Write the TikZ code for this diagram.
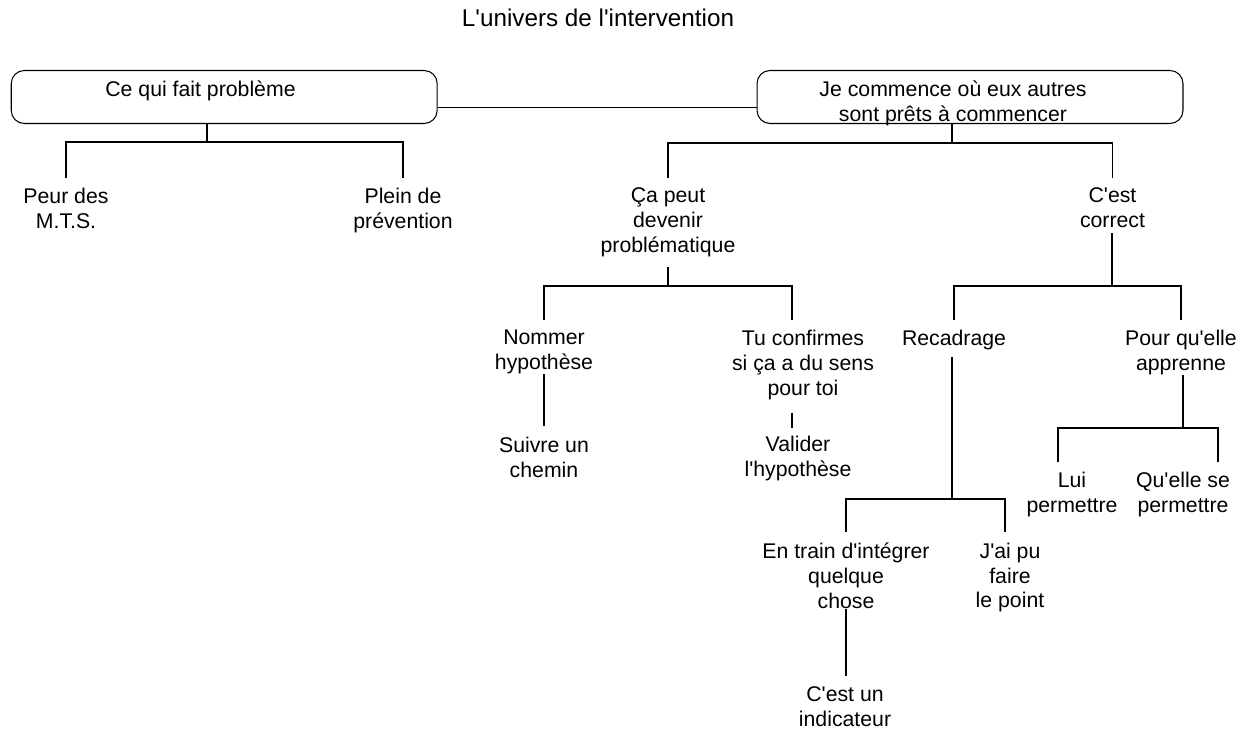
\documentclass[tikz,border=0pt]{standalone}
\usepackage{fontspec}
\setmainfont{Liberation Sans}[Ligatures=TeXOff]
\usetikzlibrary{calc}

\begin{document}
\begin{tikzpicture}[x=0.02cm,y=-0.02cm,line width=0.6pt,
    boite/.style={draw,rounded corners=0.26cm,minimum width=8.52cm,
                  minimum height=1.06cm,inner sep=0pt},
    txt/.style={anchor=north,align=center,inner sep=0pt,
                font=\fontsize{12.1pt}{14.1pt}\selectfont},
    drop/.style={shorten >=0.2cm}]
  \useasboundingbox (0,0) rectangle (1253,732);
  \node[anchor=north,inner sep=0pt,font=\fontsize{13.8pt}{16pt}\selectfont]
    (titre) at (598,8.4) {L'univers de l'intervention};

  % les deux cadres du haut
  \node[boite] (box1) at (224.2,97) {};
  \node[boite] (box2) at (970,97) {};
  \node[txt] (prob) at (200.5,80.4) {Ce qui fait problème};
  \node[txt] (comm) at (953,80.2) {Je commence où eux autres\\sont prêts à commencer};
  \draw ([yshift=-0.21cm]box1.east) -- ([yshift=-0.21cm]box2.west);

  % niveau 1
  \node[txt] (peur)    at (66,187.6)   {Peur des\\M.T.S.};
  \node[txt] (plein)   at (403,187.6)  {Plein de\\prévention};
  \node[txt] (capeut)  at (668,187.6)  {Ça peut\\devenir\\problématique};
  \node[txt] (correct) at (1112.5,187.6) {C'est\\correct};
  \coordinate (j1) at (207,142);
  \coordinate (j2) at (952,143);
  \draw (j1 |- box1.south) -- (j1);
  \draw[drop] (j1) -| (peur.north);
  \draw[drop] (j1) -| (plein.north);
  \draw (j2 |- box2.south) -- (j2);
  \draw[drop] (j2) -| (capeut.north);
  \draw[drop] (j2) -| (correct.north);

  % niveau 2
  \node[txt] (nommer) at (544,329.6)  {Nommer\\hypothèse};
  \node[txt] (tuconf) at (803,329.6)  {Tu confirmes\\si ça a du sens\\pour toi};
  \node[txt] (recad)  at (954,329.6)  {Recadrage};
  \node[txt] (pourqu) at (1181,329.6) {Pour qu'elle\\apprenne};
  \coordinate (j3) at (668,286);
  \coordinate (k1) at (792,286);
  \coordinate (j4) at (1112,286);
  \draw[shorten <=0.2cm] (j3 |- capeut.south) -- (j3);
  \draw[drop] (j3) -| (nommer.north);
  \draw[drop] (j3) -| (k1 |- tuconf.north);
  \draw[shorten <=0.1cm] (j4 |- correct.south) -- (j4);
  \draw[drop] (j4) -| (recad.north);
  \draw[drop] (j4) -| (pourqu.north);

  % niveau 3
  \node[txt] (suivre) at (544,436.3)  {Suivre un\\chemin};
  \node[txt] (valid)  at (798,435.6)  {Valider\\l'hypothèse};
  \node[txt] (lui)    at (1072,471.9) {Lui\\permettre};
  \node[txt] (quelle) at (1183,471.9) {Qu'elle se\\permettre};
  \draw[drop] (nommer.south) -- (nommer.south |- suivre.north);
  \draw[shorten <=0.25cm,shorten >=0.15cm] (k1 |- tuconf.south) -- (k1 |- valid.north);
  \coordinate (j5) at (1183,428);
  \coordinate (k3) at (1058,428);
  \coordinate (k4) at (1218,428);
  \draw (j5 |- pourqu.south) -- (j5);
  \draw[drop] (j5) -| (k3 |- lui.north);
  \draw[drop] (j5) -| (k4 |- quelle.north);

  % sous recadrage
  \node[txt] (entrain) at (846,542.3)  {En train d'intégrer\\quelque\\chose};
  \node[txt] (jaipu)   at (1010,542.3) {J'ai pu\\faire\\le point};
  \node[txt] (cestun)  at (845,686.3)  {C'est un\\indicateur};
  \coordinate (j6) at (952,499);
  \coordinate (k5) at (1005,499);
  \draw[shorten <=0.14cm] (j6 |- recad.south) -- (j6);
  \draw[drop] (j6) -| (entrain.north);
  \draw[drop] (j6) -| (k5 |- jaipu.north);
  \draw[drop] (entrain.south) -- (entrain.south |- cestun.north);
\end{tikzpicture}
\end{document}
